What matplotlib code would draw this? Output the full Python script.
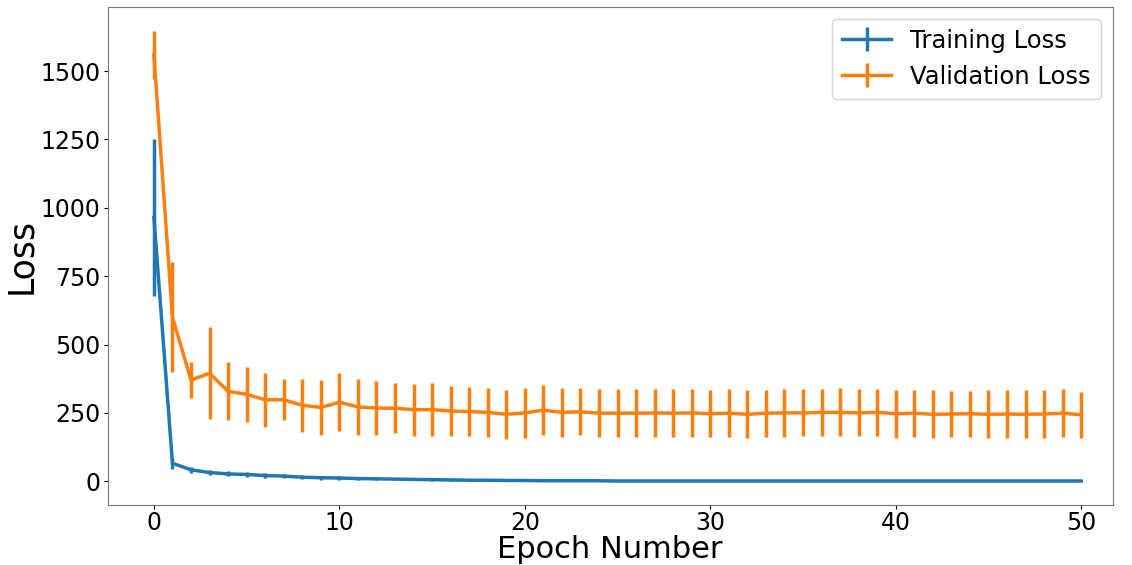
import numpy as np
import matplotlib.pyplot as plt

epochs = list(range(51))

train_loss = [965, 66, 42, 32, 27, 25, 21, 19, 15, 13, 12, 10, 9, 8, 7, 6,
              5, 4, 4, 3, 3, 2, 2, 2, 2, 1, 1, 1, 1, 1, 1, 1, 1, 1, 1, 1,
              1, 1, 1, 1, 1, 1, 1, 1, 1, 1, 1, 1, 1, 1, 1]
train_err = [287, 20, 12, 10, 9, 9, 8, 8, 7, 7, 6, 6, 5, 5, 4, 4,
             3, 3, 2, 2, 2, 2, 1, 1, 1, 1, 1, 1, 1, 1, 1, 1, 1, 1, 1, 1,
             1, 1, 1, 1, 1, 1, 1, 1, 1, 1, 1, 1, 1, 1, 1]

val_loss = [1560, 600, 370, 395, 329, 318, 298, 298, 278, 270, 289, 272, 268, 267, 262, 262,
            257, 255, 252, 245, 250, 260, 252, 254, 249, 249, 249, 250, 249, 250, 247, 249,
            245, 249, 250, 250, 252, 252, 250, 252, 247, 249, 245, 246, 247, 245, 246, 245,
            246, 249, 243]
val_err = [88, 200, 67, 168, 106, 100, 98, 75, 97, 99, 106, 102, 100, 92, 95, 96,
           91, 90, 90, 89, 90, 91, 89, 86, 87, 87, 87, 88, 87, 87, 85, 87,
           88, 86, 87, 86, 87, 88, 86, 87, 87, 86, 88, 85, 84, 87, 86, 87,
           86, 87, 85]

fig, ax = plt.subplots(figsize=(11.32, 5.65), dpi=100)
ax.errorbar(epochs, train_loss, yerr=train_err, color='#1f77b4', lw=2.5,
            elinewidth=2.5, label='Training Loss')
ax.errorbar(epochs, val_loss, yerr=val_err, color='#ff7f0e', lw=2.5,
            elinewidth=2.5, label='Validation Loss')

ax.set_xlim(-2.5, 51.7)
ax.set_ylim(-85, 1735)
ax.set_xticks([0, 10, 20, 30, 40, 50])
ax.set_yticks([0, 250, 500, 750, 1000, 1250, 1500])
ax.tick_params(labelsize=17, length=3, pad=2)
ax.set_xlabel('Epoch Number', fontsize=22, labelpad=0)
ax.set_ylabel('Loss', fontsize=25, labelpad=2)
for s in ax.spines.values():
    s.set_color('#777777')
ax.legend(fontsize=17.5, loc='upper right')

plt.subplots_adjust(left=0.095, right=0.983, top=0.988, bottom=0.107)
plt.savefig('out.png', dpi=100)
